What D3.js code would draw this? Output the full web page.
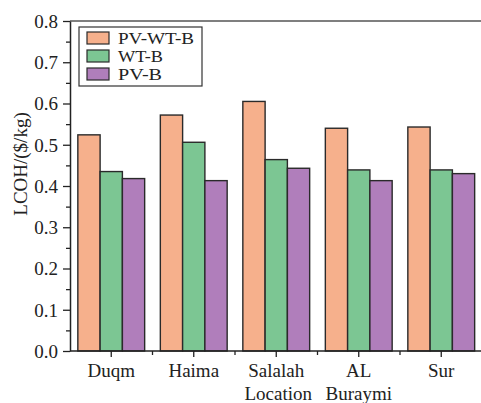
<!DOCTYPE html>
<html>
<head>
<meta charset="utf-8">
<script src="https://cdn.jsdelivr.net/npm/d3@7"></script>
<style>
  body { margin: 0; background: #fff; }
  text { font-family: "Liberation Serif", "Times New Roman", serif; fill: #222; }
</style>
</head>
<body>
<div id="chart"></div>
<script>
var locations = ["Duqm", "Haima", "Salalah", "AL Buraymi", "Sur"];
var seriesNames = ["PV-WT-B", "WT-B", "PV-B"];
var pvWtB = [0.524, 0.572, 0.605, 0.540, 0.543];
var wtB = [0.435, 0.506, 0.464, 0.439, 0.439];
var pvB = [0.418, 0.413, 0.443, 0.413, 0.430];
var colors = ["#f6b08c", "#7cc693", "#b07ebb"];
var yTicks = [0.0, 0.1, 0.2, 0.3, 0.4, 0.5, 0.6, 0.7, 0.8];

render();

function render() {
  var width = 481, height = 403;
  var left = 70, right = 482.5, top = 21, bottom = 351;

  var svg = d3.select("#chart")
    .append("svg")
    .attr("width", width)
    .attr("height", height);

  var rows = locations.map(function (loc, i) {
    return { loc: loc, values: [pvWtB[i], wtB[i], pvB[i]] };
  });

  var xScale = d3.scaleBand()
    .domain(locations)
    .range([left, right])
    .paddingInner(0.19)
    .paddingOuter(0.095);

  var xSub = d3.scaleBand()
    .domain(seriesNames)
    .range([0, xScale.bandwidth()]);

  var yScale = d3.scaleLinear()
    .domain([0, 0.8])
    .range([bottom, top]);

  // top frame line
  svg.append("line")
    .attr("x1", left).attr("x2", width)
    .attr("y1", top).attr("y2", top)
    .attr("stroke", "#555")
    .attr("stroke-width", 1.5);

  // bars
  var groups = svg.selectAll(".grp")
    .data(rows)
    .enter().append("g")
    .attr("class", "grp")
    .attr("transform", function (d) { return "translate(" + xScale(d.loc) + ",0)"; });

  groups.selectAll("rect")
    .data(function (d) { return d.values.map(function (v, j) { return { name: seriesNames[j], value: v, j: j }; }); })
    .enter().append("rect")
    .attr("x", function (d) { return xSub(d.name); })
    .attr("width", xSub.bandwidth())
    .attr("y", function (d) { return yScale(d.value); })
    .attr("height", function (d) { return yScale(0) - yScale(d.value); })
    .attr("fill", function (d) { return colors[d.j]; })
    .attr("stroke", "#2a2a2a")
    .attr("stroke-width", 1.4);

  // y axis with minor ticks
  var minorY = d3.range(0.05, 0.8, 0.1);
  svg.append("g")
    .attr("transform", "translate(" + left + ",0)")
    .call(d3.axisLeft(yScale).tickValues(minorY).tickSize(4).tickFormat(""))
    .call(function (g) { g.select(".domain").remove(); })
    .selectAll("line").attr("stroke", "#222").attr("stroke-width", 1.3);

  var yAxis = svg.append("g")
    .attr("transform", "translate(" + left + ",0)")
    .call(d3.axisLeft(yScale).tickValues(yTicks).tickSize(7).tickSizeOuter(0)
      .tickFormat(d3.format(".1f")));
  yAxis.select(".domain").attr("stroke", "#222").attr("stroke-width", 1.5);
  yAxis.selectAll("line").attr("stroke", "#222").attr("stroke-width", 1.3);
  yAxis.selectAll("text")
    .attr("x", -12)
    .attr("dy", "0.34em")
    .style("font-size", "19px")
    .style("font-family", "Liberation Serif, serif")
    .attr("fill", "#222");

  // x axis
  var xAxisLine = svg.append("g");
  xAxisLine.append("line")
    .attr("x1", left).attr("x2", width)
    .attr("y1", bottom).attr("y2", bottom)
    .attr("stroke", "#222")
    .attr("stroke-width", 1.5);

  var step = xScale.step();
  var majorX = locations.map(function (d) { return xScale(d) + xScale.bandwidth() / 2; });
  var minorX = majorX.slice(0, -1).map(function (c) { return c + step / 2; });

  xAxisLine.selectAll(".maj")
    .data(majorX)
    .enter().append("line")
    .attr("x1", function (d) { return d; }).attr("x2", function (d) { return d; })
    .attr("y1", bottom).attr("y2", bottom + 6)
    .attr("stroke", "#222").attr("stroke-width", 1.3);

  xAxisLine.selectAll(".min")
    .data(minorX)
    .enter().append("line")
    .attr("x1", function (d) { return d; }).attr("x2", function (d) { return d; })
    .attr("y1", bottom).attr("y2", bottom + 4)
    .attr("stroke", "#222").attr("stroke-width", 1.3);

  var labelFirst = ["Duqm", "Haima", "Salalah", "AL", "Sur"];
  xAxisLine.selectAll(".lbl")
    .data(locations)
    .enter().append("text")
    .attr("x", function (d) { return xScale(d) + xScale.bandwidth() / 2; })
    .attr("y", 377)
    .attr("text-anchor", "middle")
    .style("font-size", "19px")
    .text(function (d, i) { return labelFirst[i]; });

  svg.append("text")
    .attr("x", xScale("AL Buraymi") + xScale.bandwidth() / 2)
    .attr("y", 400)
    .attr("text-anchor", "middle")
    .style("font-size", "19px")
    .text("Buraymi");

  // axis titles
  svg.append("text")
    .attr("x", xScale("Salalah") + xScale.bandwidth() / 2 + 2)
    .attr("y", 400)
    .attr("text-anchor", "middle")
    .style("font-size", "19px")
    .text("Location");

  svg.append("text")
    .attr("transform", "translate(27,164) rotate(-90)")
    .attr("text-anchor", "middle")
    .style("font-size", "19px")
    .text("LCOH/($/kg)");

  // legend
  var legend = svg.append("g");
  legend.append("rect")
    .attr("x", 79).attr("y", 27)
    .attr("width", 123).attr("height", 59)
    .attr("fill", "#fff")
    .attr("stroke", "#333")
    .attr("stroke-width", 1.2);

  var items = legend.selectAll(".item")
    .data(seriesNames)
    .enter().append("g")
    .attr("transform", function (d, i) { return "translate(87," + (38 + i * 18) + ")"; });

  items.append("rect")
    .attr("x", 0).attr("y", -6)
    .attr("width", 22).attr("height", 12)
    .attr("fill", function (d, i) { return colors[i]; })
    .attr("stroke", "#2a2a2a")
    .attr("stroke-width", 1.2);

  items.append("text")
    .attr("x", 31)
    .attr("y", 6)
    .style("font-size", "17.5px")
    .attr("textLength", function (d, i) { return [76, 45, 44][i]; })
    .attr("lengthAdjust", "spacingAndGlyphs")
    .text(function (d) { return d; });
}
</script>
</body>
</html>
